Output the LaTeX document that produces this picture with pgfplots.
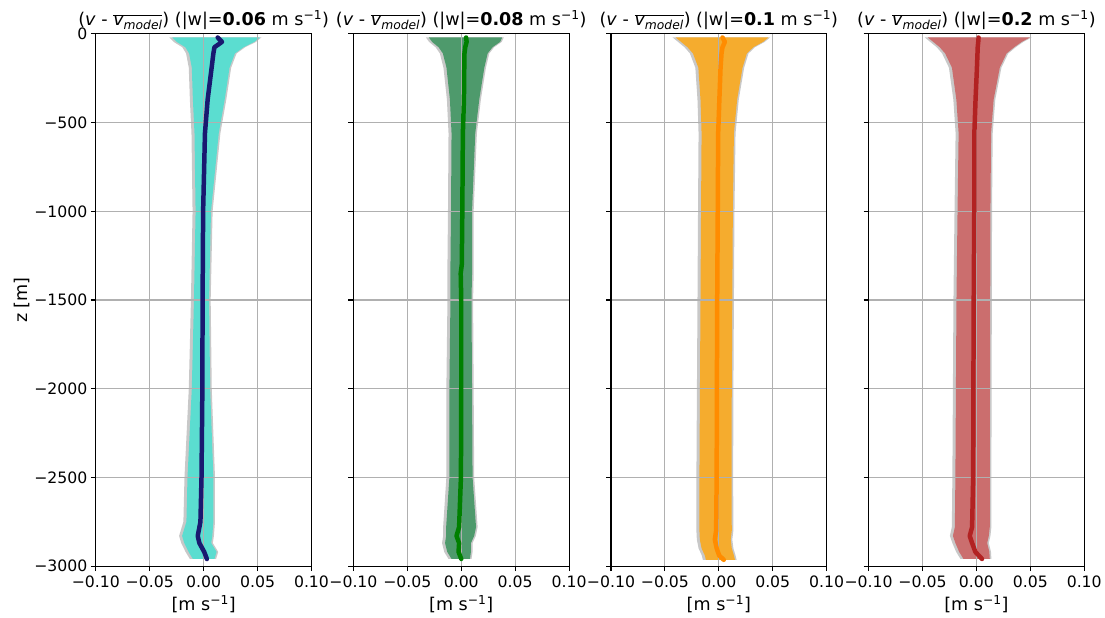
\documentclass[border=0pt]{standalone}
\usepackage{fontspec}
\setmainfont{DejaVu Sans}
\usepackage{pgfplots}
\pgfplotsset{compat=1.18}
\usepgfplotslibrary{fillbetween}
\usepackage{pgfplotstable}

\definecolor{gridgray}{HTML}{B0B0B0}
\definecolor{bandgray}{HTML}{C8C8C8}
\definecolor{fillA}{HTML}{5BDDD0}
\definecolor{lineA}{HTML}{191970}
\definecolor{fillB}{HTML}{4E9A6C}
\definecolor{lineB}{HTML}{008000}
\definecolor{fillC}{HTML}{F5AC2E}
\definecolor{lineC}{HTML}{FF8C00}
\definecolor{fillD}{HTML}{CB6E6E}
\definecolor{lineD}{HTML}{B22222}

\pgfplotstableread{
z m lo hi
-20 0.013 -0.029 0.052
-45 0.017 -0.025 0.047
-75 0.010 -0.017 0.037
-110 0.009 -0.0135 0.029
-190 0.0074 -0.011 0.024
-370 0.0037 -0.010 0.0195
-560 0.0012 -0.0085 0.014
-1000 -0.0005 -0.0075 0.0068
-1500 -0.001 -0.009 0.005
-2000 -0.0012 -0.011 0.006
-2500 -0.002 -0.015 0.009
-2750 -0.003 -0.016 0.009
-2830 -0.0055 -0.020 0.008
-2870 -0.004 -0.018 0.007
-2920 0.0005 -0.014 0.012
-2960 0.003 -0.010 0.010
}\tabA

\pgfplotstableread{
z m lo hi
-20 0.0045 -0.030 0.038
-45 0.005 -0.027 0.036
-75 0.0037 -0.021 0.029
-110 0.003 -0.017 0.0245
-190 0.0028 -0.0137 0.0214
-370 0.0025 -0.0105 0.0167
-560 0.0015 -0.0090 0.013
-1000 0.001 -0.0095 0.010
-1300 0.0005 -0.010 0.010
-1350 -0.0005 -0.010 0.010
-1500 0.0 -0.010 0.0095
-2000 0.0 -0.011 0.010
-2500 -0.0003 -0.011 0.0105
-2780 -0.002 -0.014 0.0137
-2830 -0.0044 -0.014 0.012
-2870 -0.002 -0.015 0.009
-2920 -0.0025 -0.013 0.009
-2960 0.0 -0.009 0.008
}\tabB

\pgfplotstableread{
z m lo hi
-20 0.0034 -0.040 0.046
-45 0.0056 -0.035 0.041
-75 0.0034 -0.029 0.032
-110 0.0025 -0.024 0.026
-190 0.0016 -0.019 0.022
-370 0.0005 -0.017 0.017
-560 -0.0006 -0.016 0.014
-1000 -0.001 -0.0165 0.013
-1500 -0.0015 -0.017 0.0125
-2000 -0.0018 -0.0175 0.012
-2500 -0.002 -0.018 0.0118
-2800 -0.0025 -0.018 0.012
-2850 -0.0037 -0.0176 0.011
-2900 -0.002 -0.016 0.012
-2940 0.0003 -0.013 0.014
-2965 0.0046 -0.012 0.015
}\tabC

\pgfplotstableread{
z m lo hi
-20 0.002 -0.045 0.0496
-45 0.0017 -0.040 0.042
-75 0.0012 -0.034 0.035
-110 0.001 -0.029 0.028
-190 0.0005 -0.0227 0.0217
-370 -0.0008 -0.0186 0.016
-560 -0.0019 -0.0165 0.0136
-1000 -0.002 -0.0175 0.013
-1500 -0.0025 -0.0185 0.0128
-2000 -0.0028 -0.019 0.0126
-2500 -0.003 -0.0195 0.0124
-2780 -0.004 -0.020 0.0124
-2830 -0.0062 -0.0218 0.0115
-2870 -0.004 -0.0195 0.010
-2920 -0.001 -0.016 0.012
-2960 0.0052 -0.012 0.0124
}\tabD

\pgfplotsset{
  panel/.style={
    scale only axis, width=216pt, height=533pt,
    anchor=south west,
    xmin=-0.1, xmax=0.1, ymin=-3000, ymax=0,
    xtick={-0.1,-0.05,0,0.05,0.1},
    xticklabels={−0.10,−0.05,0.00,0.05,0.10},
    ytick={-3000,-2500,-2000,-1500,-1000,-500,0},
    grid=major,
    major grid style={draw=gridgray, line width=1.1pt},
    tick align=outside, xtick pos=left, ytick pos=left,
    major tick length=5pt,
    tick style={black, line width=1.1pt},
    axis line style={line width=1.1pt},
    ticklabel style={font=\fontsize{15.7}{18}\selectfont},
    xticklabel style={yshift=-1pt},
    xlabel={[m s\textsuperscript{−1}]},
    xlabel style={at={(axis description cs:0.5,-0.0713)}, anchor=center},
    label style={font=\fontsize{17.6}{20}\selectfont},
    title style={font=\fontsize{17.6}{20}\selectfont, at={(axis description cs:0.5,1.004)}, anchor=base},
    set layers,
  },
  meanline/.style={line width=4.5pt, line join=round, line cap=round, no markers},
}

\newcommand{\ttl}[1]{(\textit{v} - $\overline{\mbox{\textit{v\textsubscript{model}}}}$) (|w|=\textbf{#1} m s\textsuperscript{−1})}

\begin{document}
\begin{tikzpicture}

% Panel 1
\begin{axis}[panel, at={(0pt,0pt)},
  yticklabels={−3000,−2500,−2000,−1500,−1000,−500,0},
  ylabel={z [m]},
  ylabel style={at={(axis description cs:-0.343,0.5)}, anchor=center},
  title={\ttl{0.06}}]
\addplot[draw=none, name path=gloA] table[x expr=\thisrow{lo}-0.0028, y=z]{\tabA};
\addplot[draw=none, name path=ghiA] table[x expr=\thisrow{hi}+0.0015, y=z]{\tabA};
\addplot[fill=bandgray, draw=none] fill between[of=gloA and ghiA, reverse=true, on layer=axis background];
\addplot[draw=none, name path=loA] table[x=lo, y=z]{\tabA};
\addplot[draw=none, name path=hiA] table[x=hi, y=z]{\tabA};
\addplot[fill=fillA, draw=none] fill between[of=loA and hiA, reverse=true, on layer=axis background];
\addplot[meanline, lineA] table[x=m, y=z]{\tabA};
\end{axis}

% Panel 2
\begin{axis}[panel, at={(258pt,0pt)}, yticklabels={}, title={\ttl{0.08}}]
\addplot[draw=none, name path=gloB] table[x expr=\thisrow{lo}-0.0028, y=z]{\tabB};
\addplot[draw=none, name path=ghiB] table[x expr=\thisrow{hi}+0.0015, y=z]{\tabB};
\addplot[fill=bandgray, draw=none] fill between[of=gloB and ghiB, reverse=true, on layer=axis background];
\addplot[draw=none, name path=loB] table[x=lo, y=z]{\tabB};
\addplot[draw=none, name path=hiB] table[x=hi, y=z]{\tabB};
\addplot[fill=fillB, draw=none] fill between[of=loB and hiB, reverse=true, on layer=axis background];
\addplot[meanline, lineB] table[x=m, y=z]{\tabB};
\end{axis}

% Panel 3
\begin{axis}[panel, at={(516pt,0pt)}, yticklabels={}, title={\ttl{0.1}}]
\addplot[draw=none, name path=gloC] table[x expr=\thisrow{lo}-0.0028, y=z]{\tabC};
\addplot[draw=none, name path=ghiC] table[x expr=\thisrow{hi}+0.0015, y=z]{\tabC};
\addplot[fill=bandgray, draw=none] fill between[of=gloC and ghiC, reverse=true, on layer=axis background];
\addplot[draw=none, name path=loC] table[x=lo, y=z]{\tabC};
\addplot[draw=none, name path=hiC] table[x=hi, y=z]{\tabC};
\addplot[fill=fillC, draw=none] fill between[of=loC and hiC, reverse=true, on layer=axis background];
\addplot[meanline, lineC] table[x=m, y=z]{\tabC};
\end{axis}

% Panel 4
\begin{axis}[panel, at={(774pt,0pt)}, yticklabels={}, title={\ttl{0.2}}]
\addplot[draw=none, name path=gloD] table[x expr=\thisrow{lo}-0.0028, y=z]{\tabD};
\addplot[draw=none, name path=ghiD] table[x expr=\thisrow{hi}+0.0015, y=z]{\tabD};
\addplot[fill=bandgray, draw=none] fill between[of=gloD and ghiD, reverse=true, on layer=axis background];
\addplot[draw=none, name path=loD] table[x=lo, y=z]{\tabD};
\addplot[draw=none, name path=hiD] table[x=hi, y=z]{\tabD};
\addplot[fill=fillD, draw=none] fill between[of=loD and hiD, reverse=true, on layer=axis background];
\addplot[meanline, lineD] table[x=m, y=z]{\tabD};
\end{axis}

\path (-96pt,-52pt) rectangle (1009pt,567pt);
\end{tikzpicture}
\end{document}
